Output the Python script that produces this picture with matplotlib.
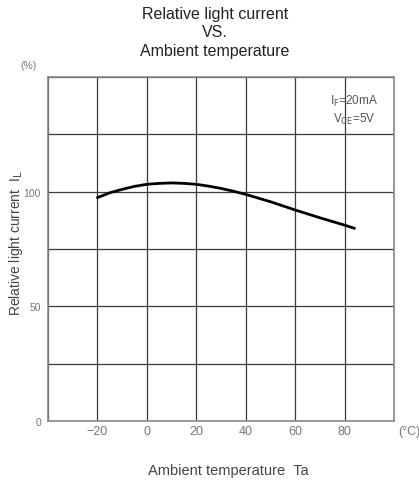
import matplotlib
matplotlib.use("Agg")
import matplotlib.pyplot as plt
from matplotlib.ticker import MultipleLocator

plt.rcParams['font.family'] = ['Liberation Sans', 'DejaVu Sans']

# curve
temp = [-20, -15, -10, -5, 0, 5, 10, 15, 20, 25, 30, 35, 40, 45, 50, 55, 60, 65, 70, 75, 80, 84]
rel_current = [97.4, 99.5, 101.0, 102.3, 103.2, 103.6, 103.8, 103.6, 103.2, 102.4, 101.4,
               100.2, 98.8, 97.2, 95.6, 93.8, 92.0, 90.3, 88.6, 87.0, 85.4, 84.0]

x_ticks = [-20, 0, 20, 40, 60, 80]
y_ticks = [0, 50, 100]

fig = plt.figure(figsize=(4.19, 4.81), dpi=100)
ax = fig.add_axes([0.1146, 0.1227, 0.8258, 0.7152])

ax.plot(temp, rel_current, color='black', linewidth=2.0, solid_capstyle='round', zorder=3)

ax.set_xlim(-40, 100)
ax.set_ylim(0, 150)
ax.xaxis.set_minor_locator(MultipleLocator(20))
ax.yaxis.set_minor_locator(MultipleLocator(25))
ax.set_xticks(x_ticks)
ax.set_yticks(y_ticks)
ax.grid(True, which='both', color='#3a3a3a', linewidth=0.9)
ax.tick_params(which='both', length=0, labelcolor='#777777')
ax.tick_params(axis='x', labelsize=9, pad=3)
ax.tick_params(axis='y', labelsize=7.5, pad=5)
ax.set_xticklabels(['\u221220', '0', '20', '40', '60', '80'])
for s in ax.spines.values():
    s.set_color('#888888')
    s.set_linewidth(1.2)

fig.text(0.513, 0.986, 'Relative light current\nVS.\nAmbient temperature',
         ha='center', va='top', fontsize=11.5, color='#222222', linespacing=1.3)
fig.text(0.069, 0.862, '(%)', ha='center', va='center', fontsize=7.5, color='#777777')
fig.text(0.977, 0.102, '(\u00b0C)', ha='center', va='center', fontsize=9, color='#777777')
ax.text(0.885, 0.955, 'I$_\\mathrm{F}$=20mA\nV$_\\mathrm{CE}$=5V', transform=ax.transAxes,
        ha='center', va='top', fontsize=8.5, color='#555555', linespacing=1.3)
fig.text(0.038, 0.495, 'Relative light current  I$_\\mathrm{L}$', rotation=90,
         ha='center', va='center', fontsize=10, color='#444444')
fig.text(0.545, 0.021, 'Ambient temperature  Ta', ha='center', va='center',
         fontsize=10.5, color='#444444')

fig.savefig('out.png', dpi=100, facecolor='white')
